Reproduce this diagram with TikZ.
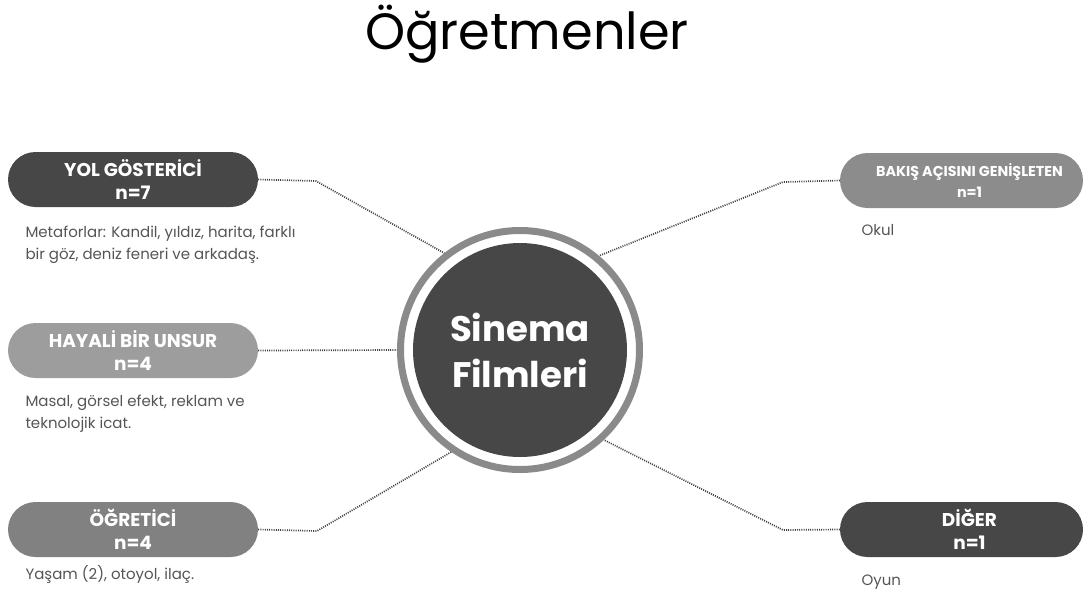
\documentclass[tikz,border=0pt]{standalone}
\usepackage{fontspec}
\setmainfont{Poppins}
\definecolor{pilldark}{HTML}{474747}
\definecolor{pillmid}{HTML}{818181}
\definecolor{pilllight}{HTML}{9D9D9D}
\definecolor{pillgray}{HTML}{8C8C8C}
\definecolor{ringgray}{HTML}{8A8A8A}
\definecolor{notegray}{HTML}{555555}
\begin{document}
\begin{tikzpicture}[x=1pt,y=-1pt,
    pill/.style={rounded corners=27.5pt,minimum width=250pt,minimum height=55pt,
      text=white,align=center,font=\fontsize{18.5}{22.5}\selectfont\bfseries,inner sep=0pt},
    note/.style={anchor=base west,align=left,text=notegray,font=\fontsize{15}{22}\selectfont},
    link/.style={draw=pilldark!90!black,line width=1.7pt,dash pattern=on 1pt off 1.2pt}]
  \useasboundingbox (0,0) rectangle (1084,595);

  \node (title) at (527,49) [anchor=base,font=\fontsize{51}{56}\selectfont,text=black]{Öğretmenler};

  % center
  \node (film) at (520,350) [circle,fill=pilldark,minimum size=214pt,outer sep=16pt,
    text=white,align=center,font=\fontsize{35.5}{46}\selectfont\bfseries]{Sinema\\Filmleri};
  \draw[ringgray,line width=7pt] (film.center) circle (119.5pt);

  % left side
  \node (yol) at (133,179.5) [pill,fill=pilldark]{YOL GÖSTERİCİ\\n=7};
  \node (hayali) at (133,350.5) [pill,fill=pilllight]{HAYALİ BİR UNSUR\\n=4};
  \node (ogretici) at (133,529.5) [pill,fill=pillmid]{ÖĞRETİCİ\\n=4};

  % right side
  \node (bakis) at (961.5,180.5) [pill,fill=pillgray,minimum width=243pt,
    font=\fontsize{14.3}{21}\selectfont\bfseries]{\hspace*{16pt}BAKIŞ AÇISINI GENİŞLETEN\\\hspace*{16pt}n=1};
  \node (diger) at (961.5,529.5) [pill,fill=pilldark,minimum width=243pt]{\hspace*{16pt}DİĞER\\\hspace*{16pt}n=1};

  \node (yolnot) at (22,259) [note]{Metaforlar: Kandil, yıldız, harita, farklı\\bir göz, deniz feneri ve arkadaş.};
  \node (hayalinot) at (22,428) [note]{Masal, görsel efekt, reklam ve\\teknolojik icat.};
  \node (ogreticinot) at (22,579) [note]{Yaşam (2), otoyol, ilaç.};
  \node (bakisnot) at (858,235) [note]{Okul};
  \node (digernot) at (858,585) [note]{Oyun};

  \coordinate (yolk) at (316,181);
  \coordinate (ogrk) at (317,531);
  \coordinate (bakk) at (783,182);
  \coordinate (digk) at (783,530);

  \draw[link] (yol.east) -- (yolk) -- (film.128);
  \draw[link] (hayali.east) -- (film.west);
  \draw[link] (ogretici.east) -- (ogrk) -- (film.236);
  \draw[link] (bakis.west) -- (bakk) -- (film.50);
  \draw[link] (diger.west) -- (digk) -- (film.313);
\end{tikzpicture}
\end{document}
